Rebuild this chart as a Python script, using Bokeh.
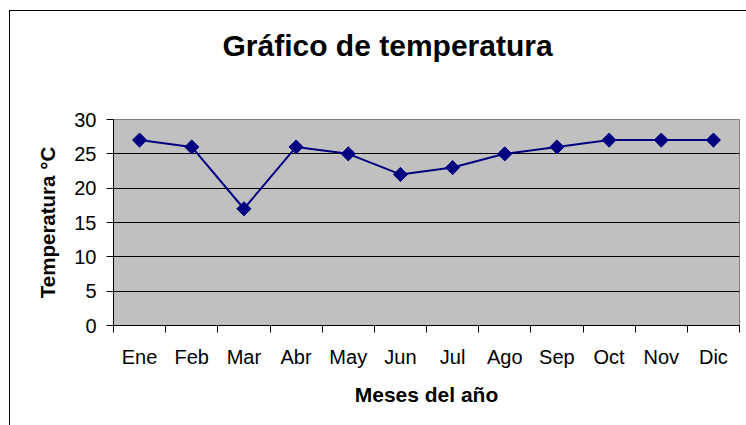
import numpy as np
from bokeh.plotting import figure
from bokeh.models import FixedTicker, Range1d, ColumnDataSource, Title
from bokeh.embed import file_html
from bokeh.resources import INLINE

meses = ["Ene", "Feb", "Mar", "Abr", "May", "Jun", "Jul", "Ago", "Sep", "Oct", "Nov", "Dic"]
temperatura = [27, 26, 17, 26, 25, 22, 23, 25, 26, 27, 27, 27]
y_ticks = [0, 5, 10, 15, 20, 25, 30]

FONT = "Liberation Sans"

xs = [i + 0.5 for i in range(len(meses))]
src = ColumnDataSource(dict(x=xs, y=temperatura))

p = figure(width=736, height=414, output_backend="svg", toolbar_location=None,
           x_range=Range1d(0, len(meses)), y_range=Range1d(0, 30),
           min_border_left=103, min_border_right=7, min_border_top=108, min_border_bottom=100,
           frame_width=626, frame_height=206,
           title="Gráfico de temperatura")
p.margin = (10, 0, 0, 9)
p.styles = {"border-left": "1px solid black", "border-top": "1px solid black"}

p.background_fill_color = "#C0C0C0"
p.border_fill_color = "white"
p.outline_line_color = "#808080"
p.outline_line_width = 1

# spacer between the frame and the title
p.add_layout(Title(text=" ", text_font_size="2px", standoff=54), "above")

p.title.align = "left"
p.title.offset = 109
p.title.standoff = 0
p.title.text_font = FONT
p.title.text_font_size = "30px"
p.title.text_font_style = "bold"
p.title.text_color = "black"

# y axis
p.yaxis.ticker = FixedTicker(ticks=y_ticks)
p.yaxis.major_tick_out = 7
p.yaxis.major_tick_in = 0
p.yaxis.minor_tick_line_color = None
p.yaxis.axis_line_color = "black"
p.yaxis.major_tick_line_color = "black"
p.yaxis.major_label_text_font = FONT
p.yaxis.major_label_text_font_size = "20px"
p.yaxis.major_label_text_color = "black"
p.yaxis.major_label_standoff = 10
p.yaxis.axis_label = "Temperatura °C"
p.yaxis.axis_label_text_font = FONT
p.yaxis.axis_label_text_font_size = "20.5px"
p.yaxis.axis_label_text_font_style = "bold"
p.yaxis.axis_label_text_color = "black"
p.yaxis.axis_label_standoff = 12

# x axis: labels at centers, ticks at boundaries
p.xaxis.ticker = FixedTicker(ticks=xs, minor_ticks=list(range(len(meses) + 1)))
p.xaxis.major_label_overrides = {x: m for x, m in zip(xs, meses)}
p.xaxis.major_tick_out = 0
p.xaxis.major_tick_in = 0
p.xaxis.minor_tick_out = 7
p.xaxis.minor_tick_in = 0
p.xaxis.minor_tick_line_color = "black"
p.xaxis.axis_line_color = "black"
p.xaxis.major_label_text_font = FONT
p.xaxis.major_label_text_font_size = "20px"
p.xaxis.major_label_text_color = "black"
p.xaxis.major_label_standoff = 13
p.xaxis.axis_label = "Meses del año"
p.xaxis.axis_label_text_font = FONT
p.xaxis.axis_label_text_font_size = "21px"
p.xaxis.axis_label_text_font_style = "bold"
p.xaxis.axis_label_text_color = "black"
p.xaxis.axis_label_standoff = 12

p.xgrid.grid_line_color = None
p.ygrid.ticker = FixedTicker(ticks=y_ticks[1:-1])
p.ygrid.grid_line_color = "black"
p.ygrid.grid_line_width = 1

p.line("x", "y", source=src, line_color="#000080", line_width=2)
p.scatter("x", "y", source=src, marker="square", angle=np.pi / 4, size=10,
          fill_color="#000080", line_color="#000080", line_width=1)

open("out.html", "w").write(file_html(p, INLINE))
